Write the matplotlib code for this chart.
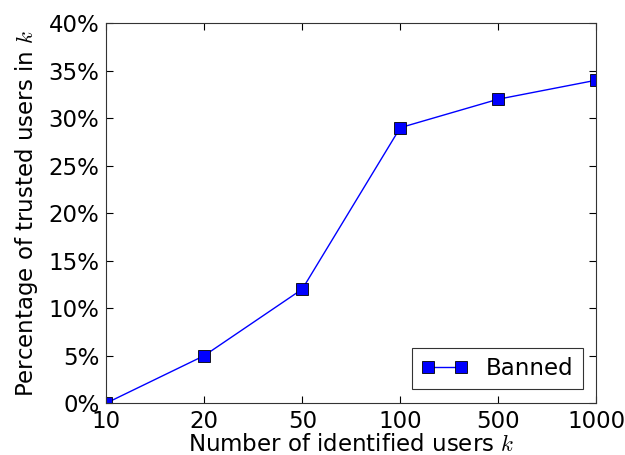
import matplotlib
matplotlib.use("Agg")
import matplotlib.pyplot as plt
from matplotlib.ticker import FuncFormatter

k_labels = ["10", "20", "50", "100", "500", "1000"]
banned = [0, 5, 12, 29, 32, 34]

plt.rcParams["mathtext.fontset"] = "cm"
plt.rcParams["font.family"] = "DejaVu Sans"

fig = plt.figure(figsize=(6.25, 4.55), dpi=100)
ax = fig.add_axes([0.170, 0.114, 0.784, 0.835])
x = list(range(len(k_labels)))
ax.plot(x, banned, "s-", color="blue", mec="black", mew=0.6, ms=9, lw=1,
        label="Banned")
ax.set_xlim(0, len(k_labels) - 1)
ax.set_ylim(0, 40)
ax.set_xticks(x)
ax.set_xticklabels(k_labels)
ax.set_yticks(range(0, 41, 5))
ax.yaxis.set_major_formatter(FuncFormatter(lambda v, p: "%d%%" % v))
ax.tick_params(direction="in", top=True, right=True, labelsize=16.5, length=5,
               pad=5)
for s in ax.spines.values():
    s.set_color("#333333")
ax.set_xlabel("Number of identified users $k$", fontsize=16.5, labelpad=0)
ax.set_ylabel("Percentage of trusted users in $k$", fontsize=16.5, labelpad=6)
leg = ax.legend(loc="lower right", fontsize=16.5, fancybox=False,
                edgecolor="black", numpoints=2, handlelength=2.0,
                borderaxespad=0.6)
leg.get_frame().set_linewidth(0.8)
fig.savefig("out.png", dpi=100)
